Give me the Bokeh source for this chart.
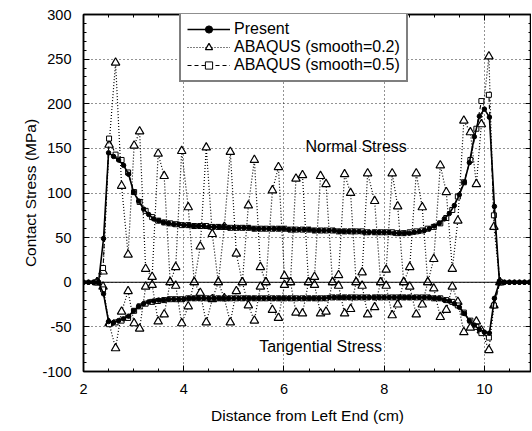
from bokeh.plotting import figure
from bokeh.models import (Range1d, LinearAxis, SingleIntervalTicker, Span, Label,
                          Legend, LegendItem)
from bokeh.embed import file_html
from bokeh.resources import INLINE

FONT = "Liberation Sans"

# ---- Present (fine mesh) ----
px = [2.0, 2.1, 2.2, 2.3, 2.4, 2.5, 2.6, 2.7, 2.8, 2.9,
      3.0, 3.1, 3.2, 3.3, 3.4, 3.5, 3.6, 3.7, 3.8, 3.9,
      4.0, 4.1, 4.2, 4.3, 4.4, 4.5, 4.6, 4.7, 4.8, 4.9,
      5.0, 5.1, 5.2, 5.3, 5.4, 5.5, 5.6, 5.7, 5.8, 5.9,
      6.0, 6.1, 6.2, 6.3, 6.4, 6.5, 6.6, 6.7, 6.8, 6.9,
      7.0, 7.1, 7.2, 7.3, 7.4, 7.5, 7.6, 7.7, 7.8, 7.9,
      8.0, 8.1, 8.2, 8.3, 8.4, 8.5, 8.6, 8.7, 8.8, 8.9,
      9.0, 9.1, 9.2, 9.3, 9.4, 9.5, 9.6, 9.7, 9.8, 9.9,
      10.0, 10.1, 10.2, 10.3, 10.4, 10.5, 10.6, 10.7, 10.8, 10.9,
      11.0]
present_normal = [0, 0, 0, 0, 49, 145, 141, 137, 131, 121,
                  101, 91, 82, 76, 71, 69, 67, 66, 65, 65,
                  64, 64, 63, 63, 63, 62, 62, 62, 62, 61,
                  61, 61, 61, 61, 60, 60, 60, 60, 60, 60,
                  60, 59, 59, 59, 59, 59, 58, 58, 58, 58,
                  58, 57, 57, 57, 57, 57, 56, 56, 56, 56,
                  56, 56, 55, 55, 55, 55, 56, 57, 58, 60,
                  63, 66, 71, 77, 86, 98, 112, 134, 163, 186,
                  194, 185, 85, 0, 0, 0, 0, 0, 0, 0,
                  0]
present_tang = [0, 0, 0, 0, -13, -44, -45, -43, -41, -38,
                -32, -27, -24, -22, -21, -20, -20, -19, -19, -19,
                -19, -18, -18, -18, -18, -18, -18, -18, -18, -18,
                -18, -18, -18, -18, -18, -18, -18, -18, -18, -18,
                -18, -18, -18, -18, -18, -18, -18, -18, -18, -17,
                -17, -17, -17, -17, -17, -17, -17, -17, -17, -17,
                -17, -17, -17, -17, -17, -17, -17, -17, -17, -17,
                -18, -18, -20, -21, -24, -28, -35, -43, -48, -53,
                -56, -57, -18, 0, 0, 0, 0, 0, 0, 0,
                0]

# ---- ABAQUS (coarser nodes) ----
ax = [2.27, 2.39, 2.51, 2.64, 2.76, 2.89, 3.01, 3.12,
      3.24, 3.37, 3.49, 3.61, 3.73, 3.84, 3.96, 4.09,
      4.21, 4.33, 4.45, 4.57, 4.69, 4.81, 4.93, 5.05,
      5.17, 5.29, 5.41, 5.53, 5.64, 5.77, 5.89, 6.01,
      6.13, 6.24, 6.37, 6.49, 6.61, 6.73, 6.84, 6.97,
      7.09, 7.21, 7.33, 7.44, 7.56, 7.67, 7.81, 7.93,
      8.04, 8.16, 8.27, 8.39, 8.51, 8.64, 8.76, 8.87,
      8.99, 9.12, 9.24, 9.36, 9.47, 9.59, 9.72, 9.84,
      9.94, 10.09, 10.19, 10.31]
s02_normal = [0, 12, 154, 246, 108, 31, 153, 169,
              15, 6, 144, 119, 0, 17, 147, 84,
              0, 40, 151, 54, 0, 62, 146, 32,
              0, 86, 137, 17, 0, 103, 129, 7,
              0, 116, 120, 0, 6, 119, 110, 0,
              8, 121, 100, 0, 11, 122, 91, 0,
              14, 122, 85, 0, 17, 122, 84, 0,
              26, 131, 101, 15, 69, 181, 168, 110,
              177, 253, 62, 0]
s02_tang = [0, -5, -46, -74, -33, -10, -46, -52,
            -5, -3, -44, -36, 0, -4, -46, -27,
            0, -12, -45, -19, 0, -18, -45, -10,
            0, -26, -43, -5, 0, -31, -40, -3,
            0, -34, -35, 0, -3, -35, -33, 0,
            -4, -35, -30, 0, -4, -36, -28, 0,
            -4, -37, -25, 0, -5, -36, -25, 0,
            -7, -39, -31, -5, -22, -56, -51, -44,
            -54, -76, -26, 0]
s05_normal = [0, 16, 161, 143, 137, 123, 101, 90,
              80, 73, 69, 67, 66, 65, 64, 64,
              63, 63, 63, 62, 62, 62, 61, 61,
              61, 61, 60, 60, 60, 60, 60, 60,
              59, 59, 59, 59, 58, 58, 58, 58,
              57, 57, 57, 57, 57, 56, 56, 56,
              56, 56, 55, 55, 56, 57, 58, 60,
              62, 66, 72, 81, 96, 112, 137, 172,
              203, 210, 75, 0]
s05_tang = [0, -8, -47, -45, -43, -40, -32, -27,
            -24, -22, -21, -20, -19, -19, -19, -18,
            -18, -18, -18, -18, -18, -18, -18, -18,
            -18, -18, -18, -18, -18, -18, -18, -18,
            -18, -18, -18, -18, -18, -18, -18, -17,
            -17, -17, -17, -17, -17, -17, -17, -17,
            -17, -17, -17, -17, -17, -17, -17, -17,
            -18, -18, -20, -22, -26, -34, -43, -50,
            -57, -62, -26, 0]

legend_labels = ["Present", "ABAQUS (smooth=0.2)", "ABAQUS (smooth=0.5)"]
x_label = "Distance from Left End (cm)"
y_label = "Contact Stress (MPa)"
y_tick_text = {-100: "-100", -50: "-50"}

p = figure(width=531, height=426, output_backend="svg", toolbar_location=None,
           x_range=Range1d(2, 10.94), y_range=Range1d(-100, 300),
           min_border_left=83, min_border_right=0, min_border_top=14,
           min_border_bottom=40)
p.background_fill_color = "white"
p.border_fill_color = "white"
p.outline_line_color = "black"
p.outline_line_width = 1.5

p.xaxis.ticker = SingleIntervalTicker(interval=2, num_minor_ticks=4)
p.yaxis.ticker = SingleIntervalTicker(interval=50, num_minor_ticks=5)
p.yaxis.major_label_overrides = y_tick_text
for a in (p.xaxis[0], p.yaxis[0]):
    a.axis_line_color = "black"
    a.axis_line_width = 1.5
    a.major_tick_in = 6
    a.major_tick_out = 0
    a.minor_tick_in = 3
    a.minor_tick_out = 0
    a.major_tick_line_color = "black"
    a.minor_tick_line_color = "black"
    a.major_label_text_font = FONT
    a.major_label_text_font_size = "14.5px"
    a.major_label_text_color = "black"
    a.axis_label_text_font = FONT
    a.axis_label_text_font_size = "15.5px"
    a.axis_label_text_font_style = "normal"
    a.axis_label_text_color = "black"
p.xaxis.axis_label = x_label
p.yaxis.axis_label = y_label
p.xaxis.major_label_standoff = 12
p.xaxis.axis_label_standoff = 10
p.yaxis.major_label_standoff = 12
p.yaxis.axis_label_standoff = 0

top = LinearAxis(ticker=SingleIntervalTicker(interval=2, num_minor_ticks=4))
right = LinearAxis(ticker=SingleIntervalTicker(interval=50, num_minor_ticks=5))
for a in (top, right):
    a.axis_line_color = "black"
    a.axis_line_width = 1.5
    a.major_tick_in = 6
    a.major_tick_out = 0
    a.minor_tick_in = 3
    a.minor_tick_out = 0
    a.major_label_text_color = None
    a.major_label_text_font_size = "1px"
    a.major_label_standoff = 0
p.add_layout(top, "above")
p.add_layout(right, "right")

for g in (p.xgrid[0], p.ygrid[0]):
    g.grid_line_color = "black"
    g.grid_line_dash = "1 3"
    g.grid_line_width = 1
    g.grid_line_alpha = 0.85

p.add_layout(Span(location=0, dimension="width", line_color="black", line_width=1))

# ABAQUS smooth=0.2 (triangles, dotted)
l2a = p.line(ax, s02_normal, line_color="black", line_width=1.2, line_dash="1 2")
l2b = p.line(ax, s02_tang, line_color="black", line_width=1.2, line_dash="1 2")
m2a = p.scatter(ax, s02_normal, marker="triangle", size=8.5, fill_color="white",
                line_color="black", line_width=1.2)
m2b = p.scatter(ax, s02_tang, marker="triangle", size=8.5, fill_color="white",
                line_color="black", line_width=1.2)

# ABAQUS smooth=0.5 (squares, dashed)
l5a = p.line(ax, s05_normal, line_color="black", line_width=1.1, line_dash="4 3")
l5b = p.line(ax, s05_tang, line_color="black", line_width=1.1, line_dash="4 3")
m5a = p.scatter(ax, s05_normal, marker="square", size=5, fill_color="white",
                line_color="black", line_width=1)
m5b = p.scatter(ax, s05_tang, marker="square", size=5, fill_color="white",
                line_color="black", line_width=1)

# Present (filled circles, solid)
lpa = p.line(px, present_normal, line_color="black", line_width=1.6)
lpb = p.line(px, present_tang, line_color="black", line_width=1.6)
mpa = p.scatter(px, present_normal, marker="circle", size=4.5, fill_color="black",
                line_color="black")
mpb = p.scatter(px, present_tang, marker="circle", size=4.5, fill_color="black",
                line_color="black")

legend = Legend(items=[
    LegendItem(label=legend_labels[0], renderers=[lpa, mpa]),
    LegendItem(label=legend_labels[1], renderers=[l2a, m2a]),
    LegendItem(label=legend_labels[2], renderers=[l5a, m5a]),
], location=(96, 289))
legend.margin = 0
legend.padding = 6
legend.spacing = 0
legend.glyph_width = 43
legend.glyph_height = 18
legend.label_height = 18
legend.label_standoff = 4
legend.label_text_font = FONT
legend.label_text_font_size = "16px"
legend.label_text_color = "black"
legend.border_line_color = "black"
legend.border_line_width = 2.5
legend.background_fill_color = "white"
legend.background_fill_alpha = 1
p.add_layout(legend)

p.add_layout(Label(x=7.44, y=152, text="Normal Stress", text_align="center",
                   text_baseline="middle", text_font=FONT, text_font_size="16px",
                   text_color="black"))
p.add_layout(Label(x=6.73, y=-72, text="Tangential Stress", text_align="center",
                   text_baseline="middle", text_font=FONT, text_font_size="16px",
                   text_color="black"))

open("out.html", "w").write(file_html(p, INLINE))
